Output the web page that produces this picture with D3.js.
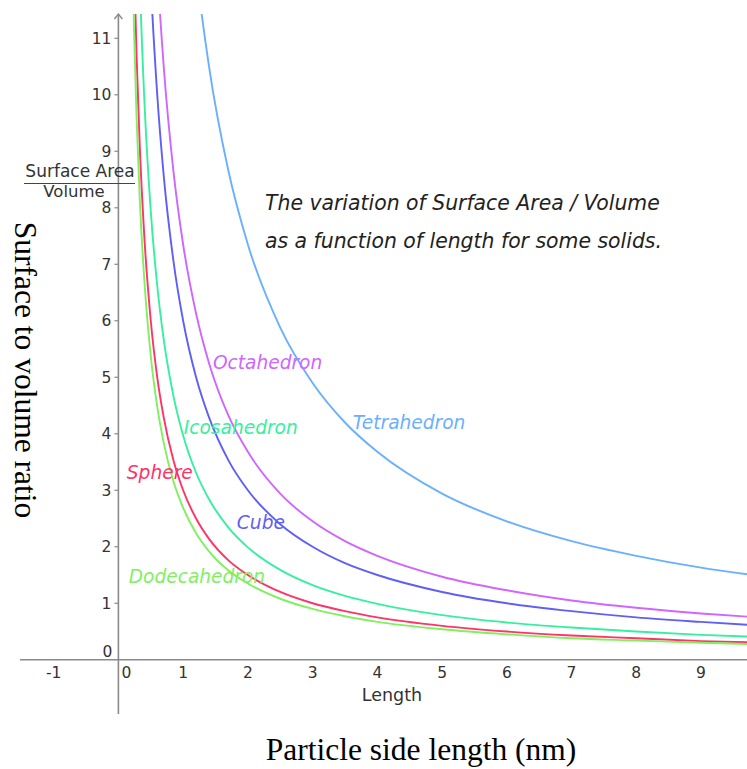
<!DOCTYPE html>
<html>
<head>
<meta charset="utf-8">
<script src="https://cdn.jsdelivr.net/npm/d3@7"></script>
<style>
  body { margin: 0; background: #fff; }
  svg { display: block; }
</style>
</head>
<body>
<div id="svg-container"></div>
<script>
// particle side length samples (x) and surface/volume values
const lengths = [0.2, 0.24, 0.28, 0.33, 0.4, 0.5, 0.6, 0.7, 0.85, 1, 1.2, 1.4, 1.7, 2, 2.5, 3, 3.5, 4, 5, 6, 7, 8, 9, 10];
const tetrahedron = [73.5, 61.25, 52.5, 44.55, 36.75, 29.4, 24.5, 21.0, 17.29, 14.7, 12.25, 10.5, 8.65, 7.35, 5.88, 4.9, 4.2, 3.68, 2.94, 2.45, 2.1, 1.84, 1.63, 1.47];
const octahedron = [36.75, 30.63, 26.25, 22.27, 18.38, 14.7, 12.25, 10.5, 8.65, 7.35, 6.13, 5.25, 4.32, 3.68, 2.94, 2.45, 2.1, 1.84, 1.47, 1.23, 1.05, 0.92, 0.82, 0.74];
const cube = [30, 25, 21.43, 18.18, 15, 12, 10, 8.57, 7.06, 6, 5, 4.29, 3.53, 3, 2.4, 2, 1.71, 1.5, 1.2, 1, 0.86, 0.75, 0.67, 0.6];
const icosahedron = [19.85, 16.54, 14.18, 12.03, 9.93, 7.94, 6.62, 5.67, 4.67, 3.97, 3.31, 2.84, 2.34, 1.99, 1.59, 1.32, 1.13, 0.99, 0.79, 0.66, 0.57, 0.5, 0.44, 0.4];
const sphere = [15, 12.5, 10.71, 9.09, 7.5, 6, 5, 4.29, 3.53, 3, 2.5, 2.14, 1.76, 1.5, 1.2, 1, 0.86, 0.75, 0.6, 0.5, 0.43, 0.38, 0.33, 0.3];
const dodecahedron = [13.45, 11.21, 9.61, 8.15, 6.73, 5.38, 4.48, 3.84, 3.16, 2.69, 2.24, 1.92, 1.58, 1.35, 1.08, 0.9, 0.77, 0.67, 0.54, 0.45, 0.38, 0.34, 0.3, 0.27];

const xTicks = [-1, 0, 1, 2, 3, 4, 5, 6, 7, 8, 9];
const yTicks = [0, 1, 2, 3, 4, 5, 6, 7, 8, 9, 10, 11];

// curve label text and where it sits (data coords)
const solidNames = ["Tetrahedron", "Octahedron", "Cube", "Icosahedron", "Sphere", "Dodecahedron"];
const labelX = [3.62, 1.46, 1.83, 1.01, 0.13, 0.16];
const labelY = [4.2, 5.27, 2.43, 4.12, 3.32, 1.48];

const series = [tetrahedron, octahedron, cube, icosahedron, sphere, dodecahedron];
const colors = ["#6ab0ff", "#cf66ff", "#5f5ff5", "#36f0a0", "#ff3366", "#80f060"];

const W = 747, H = 769;
const plotLeft = 20, plotRight = 747, plotTop = 14, plotBottom = 714;

const svg = d3.select("#svg-container")
  .append("svg")
  .attr("width", W)
  .attr("height", H);

const x = d3.scaleLinear().domain([-1.52, 9.71]).range([plotLeft, plotRight]);
const y = d3.scaleLinear().domain([-0.96, 11.43]).range([plotBottom, plotTop]);

svg.append("clipPath").attr("id", "plot-clip")
  .append("rect")
  .attr("x", plotLeft).attr("y", plotTop)
  .attr("width", plotRight - plotLeft).attr("height", plotBottom - plotTop);

// axes
const axisColor = "#8a8a8a";
svg.append("line")
  .attr("x1", plotLeft).attr("x2", plotRight)
  .attr("y1", y(0)).attr("y2", y(0))
  .attr("stroke", axisColor).attr("stroke-width", 1.6);

svg.append("line")
  .attr("x1", x(0)).attr("x2", x(0))
  .attr("y1", plotTop).attr("y2", plotBottom)
  .attr("stroke", axisColor).attr("stroke-width", 1.6);

// arrow head on y axis
svg.append("path")
  .attr("d", `M${x(0) - 4},${plotTop + 5} L${x(0)},${plotTop} L${x(0) + 4},${plotTop + 5}`)
  .attr("fill", "none").attr("stroke", axisColor).attr("stroke-width", 1.4);

// y tick marks + labels
const tickFont = "DejaVu Sans, sans-serif";
svg.append("g").selectAll("line")
  .data(yTicks.filter(d => d !== 0))
  .join("line")
  .attr("x1", x(0) - 4).attr("x2", x(0))
  .attr("y1", d => y(d)).attr("y2", d => y(d))
  .attr("stroke", axisColor).attr("stroke-width", 1.2);

svg.append("g").selectAll("text")
  .data(yTicks)
  .join("text")
  .attr("x", d => d === 0 ? x(0) - 6 : x(0) - 7)
  .attr("y", d => d === 0 ? y(0) - 8 : y(d))
  .attr("dy", "0.35em")
  .attr("text-anchor", "end")
  .attr("font-family", tickFont)
  .attr("font-size", 15.5)
  .attr("fill", "#333")
  .text(d => d);

svg.append("g").selectAll("text")
  .data(xTicks)
  .join("text")
  .attr("x", d => d === 0 ? x(0) + 8 : x(d))
  .attr("y", y(0) + 13)
  .attr("dy", "0.35em")
  .attr("text-anchor", "middle")
  .attr("font-family", tickFont)
  .attr("font-size", 15.5)
  .attr("fill", "#333")
  .text(d => d);

// axis name "Length"
svg.append("text")
  .attr("x", 392).attr("y", 701)
  .attr("text-anchor", "middle")
  .attr("font-family", tickFont)
  .attr("font-size", 17.5)
  .attr("fill", "#333")
  .text("Length");

// Surface Area / Volume fraction on y axis
svg.append("text")
  .attr("x", 80).attr("y", 177)
  .attr("text-anchor", "middle")
  .attr("font-family", tickFont)
  .attr("font-size", 17)
  .attr("fill", "#333")
  .text("Surface Area");
svg.append("line")
  .attr("x1", 24).attr("x2", 135)
  .attr("y1", 183.5).attr("y2", 183.5)
  .attr("stroke", "#444").attr("stroke-width", 1.2);
svg.append("text")
  .attr("x", 74).attr("y", 197)
  .attr("text-anchor", "middle")
  .attr("font-family", tickFont)
  .attr("font-size", 16.5)
  .attr("fill", "#333")
  .text("Volume");

// curves
const line = d3.line()
  .x((d, i) => x(lengths[i]))
  .y(d => y(d))
  .curve(d3.curveMonotoneX);

svg.append("g")
  .attr("clip-path", "url(#plot-clip)")
  .selectAll("path")
  .data(series)
  .join("path")
  .attr("d", d => line(d))
  .attr("fill", "none")
  .attr("stroke", (d, i) => colors[i])
  .attr("stroke-width", 1.9);

// curve labels
svg.append("g").selectAll("text")
  .data(solidNames)
  .join("text")
  .attr("x", (d, i) => x(labelX[i]))
  .attr("y", (d, i) => y(labelY[i]))
  .attr("dy", "0.35em")
  .attr("font-family", tickFont)
  .attr("font-style", "italic")
  .attr("font-size", 18.6)
  .attr("fill", (d, i) => colors[i])
  .text(d => d);

// note
const note = svg.append("text")
  .attr("font-family", tickFont)
  .attr("font-style", "italic")
  .attr("font-size", 20.4)
  .attr("fill", "#222");
note.append("tspan").attr("x", 265).attr("y", 210).text("The variation of Surface Area / Volume");
note.append("tspan").attr("x", 265).attr("y", 248).text("as a function of length for some solids.");

// outer titles
svg.append("text")
  .attr("transform", "translate(15,370) rotate(90)")
  .attr("text-anchor", "middle")
  .attr("font-family", "Liberation Serif, Times New Roman, serif")
  .attr("font-size", 31.5)
  .attr("fill", "#000")
  .text("Surface to volume ratio");

svg.append("text")
  .attr("x", 421).attr("y", 760)
  .attr("text-anchor", "middle")
  .attr("font-family", "Liberation Serif, Times New Roman, serif")
  .attr("font-size", 31.5)
  .attr("fill", "#000")
  .text("Particle side length (nm)");
</script>
</body>
</html>
